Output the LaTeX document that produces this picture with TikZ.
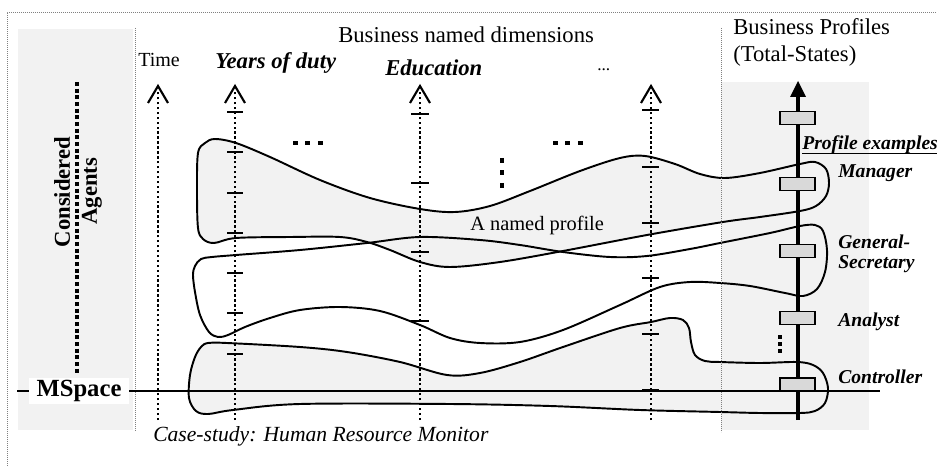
\documentclass[tikz,border=0pt]{standalone}
\usepackage{fontspec}
\setmainfont{Liberation Serif}
\begin{document}
\begin{tikzpicture}[x=0.75pt,y=-0.75pt,
  frameline/.style={draw=gray, line width=0.5pt, dash pattern=on 0.6pt off 0.9pt},
  panel/.style={fill=black!5, draw=none},
  axisline/.style={line width=1.6pt, dash pattern=on 1.8pt off 1.9pt},
  tickmark/.style={line width=1.1pt},
  chev/.style={line width=1.6pt, line join=miter},
  profile/.style={line width=1.45pt},
  pfill/.style={fill=black!5},
  bigdots/.style={line width=3.6pt, dash pattern=on 3.75pt off 5.6pt},
  agentdots/.style={line width=3.4pt, dash pattern=on 3pt off 2pt},
  smalldots/.style={line width=2.8pt, dash pattern=on 3pt off 2.4pt},
  stateb/.style={draw, line width=1.1pt, fill=black!15, minimum width=26.25pt, minimum height=9.75pt, inner sep=0pt},
  txt/.style={inner sep=0pt, anchor=base west},
  reg17/.style={txt, font=\fontsize{17}{20}\selectfont},
  bi17/.style={txt, font=\fontsize{17}{20}\selectfont\bfseries\itshape},
  bi15/.style={txt, font=\fontsize{14.7}{17}\selectfont\bfseries\itshape},
]
\useasboundingbox (0,0) rectangle (937,466);

% panels
\fill[panel] (18,29) rectangle (133,430);
\fill[panel] (721,82) rectangle (869,430);

% profile shapes
\draw[profile, pfill] plot[smooth cycle, tension=0.55] coordinates {
 (205,143) (215,139) (236,143) (270,157) (320,180) (370,198) (420,209) (455,212)
 (490,206) (530,191) (580,171) (620,158) (645,156) (675,164) (700,174) (725,178)
 (760,173) (800,164) (815,162) (826,169) (829,183) (826,196) (816,206) (800,211)
 (760,217) (723,222) (647,235) (563,251) (500,262) (450,267) (420,262) (390,250)
 (367,242) (340,237) (290,237) (236,238) (214,243) (203,239) (198,228) (197,190) (198,153)};
\draw[profile, pfill] plot[smooth cycle, tension=0.55] coordinates {
 (201,347) (208,343) (227,343) (300,347) (347,352) (400,362) (447,375) (480,373)
 (520,362) (563,347) (620,328) (651,322) (670,318) (683,320) (689,328) (691,342)
 (695,355) (705,361) (720,362) (760,363) (797,362) (813,365) (823,373) (828,388)
 (825,403) (815,411) (800,413) (760,413) (720,412) (640,410) (550,406) (450,404)
 (300,404) (233,410) (208,414) (196,411) (189,398) (190,375) (195,357)};
\draw[profile] plot[smooth cycle, tension=0.55] coordinates {
 (195,266) (201,259) (212,257) (236,255) (300,250) (367,243) (420,237) (480,240)
 (520,245) (563,252) (610,257) (647,256) (690,249) (720,243) (770,233) (800,226)
 (815,225) (823,231) (827,250) (825,272) (817,289) (803,296) (785,293) (750,286)
 (720,283) (690,282) (660,287) (620,305) (563,330) (520,342) (480,343) (450,338)
 (420,325) (380,311) (340,307) (300,310) (270,318) (245,327) (228,335) (218,337)
 (209,332) (200,315) (195,292) (193,275)};

% frame and separators
\draw[frameline] (7,466) -- (7,12) -- (937,12);
\draw[frameline] (135,28) -- (135,431);
\draw[frameline] (721,28) -- (721,432);

% dimension axes
\foreach \x/\n in {158/tm, 235/yd, 420/ed, 651/dd} {
  \coordinate (\n0) at (\x,420);
  \coordinate (\n1) at (\x,90);
  \draw[axisline] (\n0) -- (\n1);
  \draw[chev] (\x-10,103) -- (\x,86) -- (\x+10,103);
}
\foreach \y in {112,152,193,233,273,313,354} \draw[tickmark] (227,\y) -- (243,\y);
\foreach \y in {114,183,252,321} \draw[tickmark] (411,\y) -- (429,\y);
\foreach \y in {110,167,223,278,334,390} \draw[tickmark] (642,\y) -- (659,\y);

% ellipsis marks
\draw[bigdots] (293,143) -- (324,143);
\draw[bigdots] (553,143) -- (584,143);
\draw[bigdots] (502,158) -- (502,189);
\draw[agentdots] (77,82) -- (77,373);
\draw[smalldots] (780,335) -- (780,354);

% MSpace line
\coordinate (ms0) at (17,391);
\coordinate (ms1) at (880,391);
\draw[line width=1.5pt] (ms0) -- (ms1);
\node[fill=white, inner sep=0pt, minimum width=75.5pt, minimum height=20pt,
      font=\fontsize{18.5}{20}\selectfont\bfseries] (mspace) at (79,391) {MSpace};

% profile axis
\coordinate (pa0) at (798,420);
\coordinate (pa1) at (798,95);
\draw[line width=2.3pt] (pa0) -- (pa1);
\fill (798,81) -- (806,97) -- (790,97) -- cycle;
\foreach \y/\n in {118/b1, 184/b2, 251/b3, 318/b4, 384.5/b5}
  \node[stateb] (\n) at (797.5,\y) {};

% texts
\node[reg17] (bnd) at (338,43) {Business named dimensions};
\node[txt, font=\fontsize{15}{17}\selectfont] (time) at (138,67) {Time};
\node[bi17] (yod) at (215,69) {Years of duty};
\node[bi17] (edu) at (385,76) {Education};
\node[txt, font=\fontsize{13}{15}\selectfont] (more) at (597,71) {...};
\node[reg17] (bp) at (733,35) {Business Profiles};
\node[reg17] (ts) at (733,62) {(Total-States)};
\node[bi15] (pe) at (802,150) {Profile examples};
\draw[line width=0.9pt] ([yshift=-2.5pt]pe.base west) -- ([yshift=-2.5pt]pe.base east);
\node[bi15] (mgr) at (838,178) {Manager};
\node[bi15] (gs1) at (838,248) {General-};
\node[bi15] (gs2) at (838,268) {Secretary};
\node[bi15] (ana) at (838,326) {Analyst};
\node[bi15] (ctl) at (838,383) {Controller};
\node[txt, font=\fontsize{15.3}{18}\selectfont] (anp) at (470,231) {A named profile};
\node[txt, font=\fontsize{16.2}{19}\selectfont\itshape] (cs) at (153,441) {Case-study: Human Resource Monitor};
\node[rotate=90, inner sep=0pt, font=\fontsize{17}{20}\selectfont\bfseries] (cons) at (62,192) {Considered};
\node[rotate=90, inner sep=0pt, font=\fontsize{17}{20}\selectfont\bfseries] (agt) at (92,191) {Agents};
\end{tikzpicture}
\end{document}
